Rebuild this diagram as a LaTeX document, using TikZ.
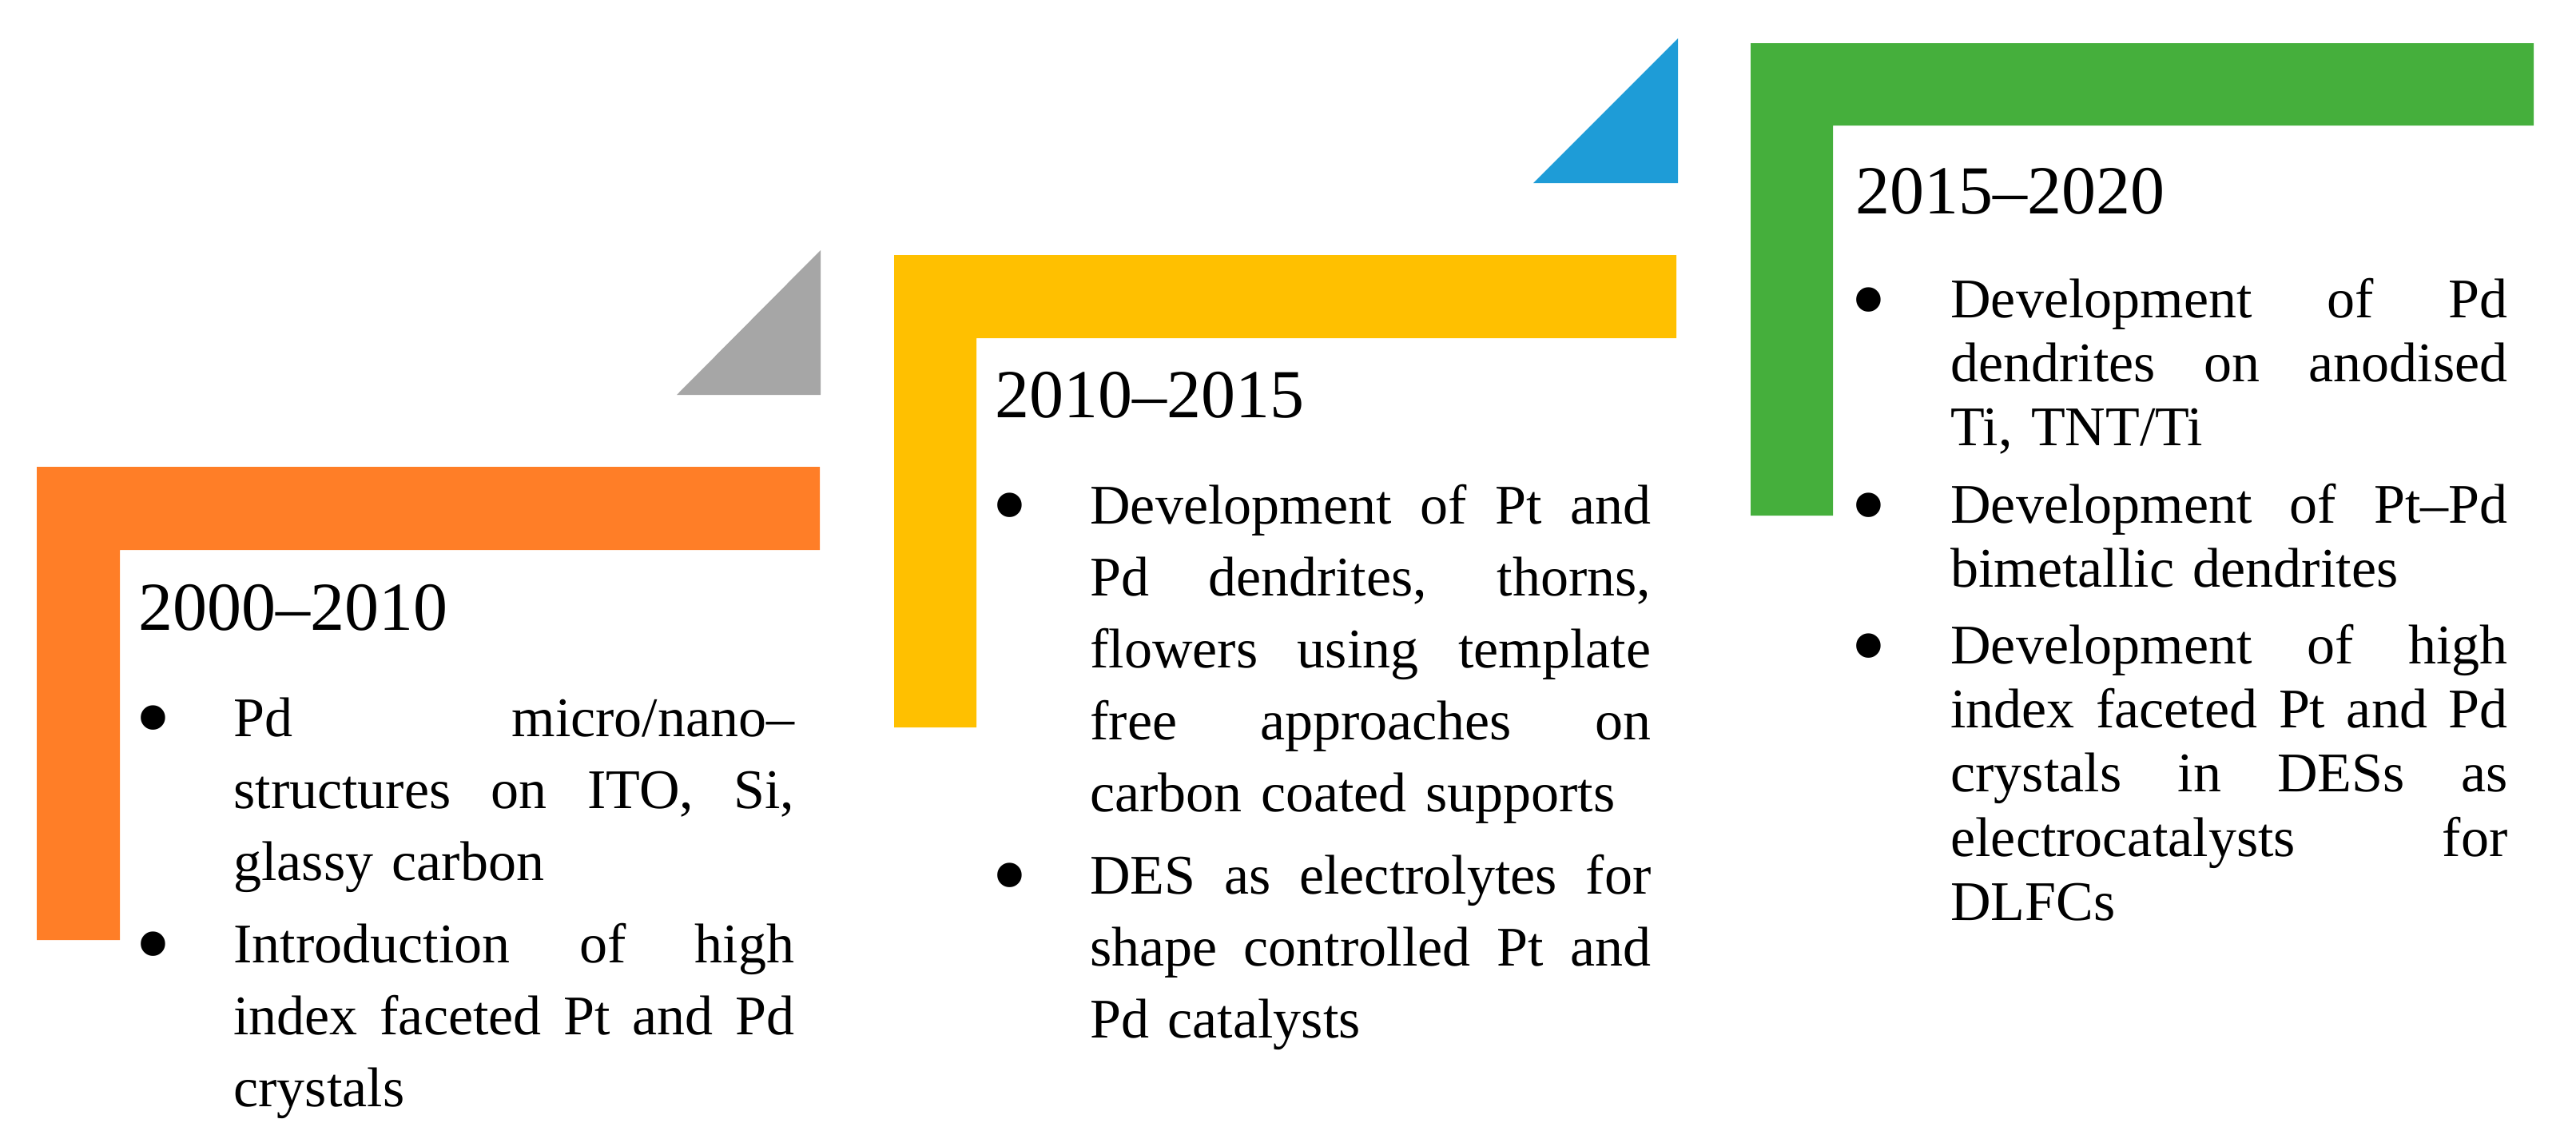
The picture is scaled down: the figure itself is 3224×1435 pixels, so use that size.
\documentclass[tikz,border=0pt]{standalone}
\usepackage{fontspec}
\setmainfont{Liberation Serif}
\definecolor{lorange}{HTML}{FF7E27}
\definecolor{lgray}{HTML}{A6A6A6}
\definecolor{lyellow}{HTML}{FFC000}
\definecolor{lblue}{HTML}{1E9CD7}
\definecolor{lgreen}{HTML}{45AF3C}
\newlength\colw \setlength\colw{351pt}
\newlength\colwg \setlength\colwg{348.5pt}
\newcommand\justline[1]{\leavevmode\hbox to \colw{\spaceskip=.25em plus 1fil\relax\xspaceskip=\spaceskip #1}}
\newcommand\justlineg[1]{\leavevmode\hbox to \colwg{\spaceskip=.25em plus 1fil\relax\xspaceskip=\spaceskip #1}}
\tikzset{
  period/.style={font=\fontsize{43}{50}\selectfont, anchor=base west, inner sep=0pt},
  bul/.style={font=\fontsize{64}{64}\selectfont, anchor=center, inner sep=0pt},
  itemtext/.style={font=\fontsize{35}{45}\selectfont, anchor=base west, inner sep=0pt,
    text width=351pt, align=left},
  itemtextg/.style={font=\fontsize{35}{40.2}\selectfont, anchor=base west, inner sep=0pt,
    text width=348.5pt, align=left}
}
\begin{document}
\begin{tikzpicture}[x=0.5pt,y=-0.5pt]
\useasboundingbox (0,0) rectangle (3224,1435);
% shapes
\fill[lorange] (46,584) -- (1026,584) -- (1026,688) -- (150,688) -- (150,1176) -- (46,1176) -- cycle;
\fill[lyellow] (1119,319) -- (2098,319) -- (2098,423) -- (1222,423) -- (1222,910) -- (1119,910) -- cycle;
\fill[lgreen] (2191,54) -- (3171,54) -- (3171,157) -- (2294,157) -- (2294,645) -- (2191,645) -- cycle;
\fill[lgray] (847,494) -- (1027,494) -- (1027,313) -- cycle;
\fill[lblue] (1919,229) -- (2100,229) -- (2100,48) -- cycle;
% 2000--2010
\node[period] (ohead) at (173,788) {2000–2010};
\node[bul] (ob1) at (192,912) {•};
\node[itemtext] (ot1) at (292,921) {\justline{Pd micro/nano–}\\\justline{structures on ITO, Si,}\\glassy carbon};
\node[bul] (ob2) at (192,1195) {•};
\node[itemtext] (ot2) at (292,1204) {\justline{Introduction of high}\\\justline{index faceted Pt and Pd}\\crystals};
% 2010--2015
\node[period] (yhead) at (1245,522) {2010–2015};
\node[bul] (yb1) at (1264,646) {•};
\node[itemtext] (yt1) at (1364,655) {\justline{Development of Pt and}\\\justline{Pd dendrites, thorns,}\\\justline{flowers using template}\\\justline{free approaches on}\\carbon coated supports};
\node[bul] (yb2) at (1264,1109) {•};
\node[itemtext] (yt2) at (1364,1118) {\justline{DES as electrolytes for}\\\justline{shape controlled Pt and}\\Pd catalysts};
% 2015--2020
\node[period] (ghead) at (2322,267) {2015–2020};
\node[bul] (gb1) at (2339,389) {•};
\node[itemtextg] (gt1) at (2441,397) {\justlineg{Development of Pd}\\\justlineg{dendrites on anodised}\\Ti, TNT/Ti};
\node[bul] (gb2) at (2339,646) {•};
\node[itemtextg] (gt2) at (2441,654) {\justlineg{Development of Pt–Pd}\\bimetallic dendrites};
\node[bul] (gb3) at (2339,822) {•};
\node[itemtextg] (gt3) at (2441,830) {\justlineg{Development of high}\\\justlineg{index faceted Pt and Pd}\\\justlineg{crystals in DESs as}\\\justlineg{electrocatalysts for}\\DLFCs};
\end{tikzpicture}
\end{document}
